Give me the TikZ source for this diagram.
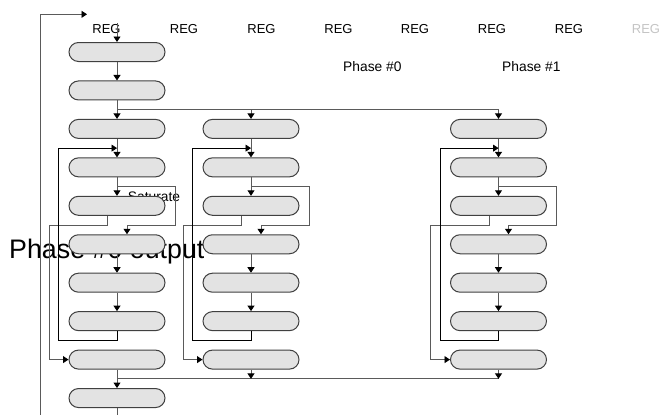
\documentclass[tikz,border=0pt]{standalone}
\usepackage{fontspec}
\setmainfont{Liberation Sans}
\usetikzlibrary{arrows.meta,calc}
\definecolor{boxfill}{HTML}{E3E3E3}
\definecolor{boxline}{HTML}{404040}
\definecolor{wiregray}{HTML}{5A5A5A}
\definecolor{fadegray}{HTML}{C4C4C4}
\begin{document}
\begin{tikzpicture}[x=1pt,y=-1pt,
  blk/.style={draw=boxline, fill=boxfill, rounded corners=9.5pt, minimum width=96pt, minimum height=19pt, inner sep=0pt, line width=1pt},
  wire/.style={draw=wiregray, line width=0.9pt},
  fb/.style={draw=black, line width=0.9pt},
  tip/.style={-{Triangle[width=7pt,length=5.5pt,fill=black,color=black]}},
  lbl/.style={font=\fontsize{13}{15}\selectfont, inner sep=0pt},
  slbl/.style={font=\fontsize{13.8}{16}\selectfont, inner sep=0pt}
]
\useasboundingbox (0,0) rectangle (665,415);

% texts (bottom layer)
\node[font=\fontsize{26.8}{30}\selectfont, inner sep=0pt, anchor=base west] (big) at (9,258.3) {Phase \#0 output};
\foreach \i/\x in {1/106.5,2/184,3/261.5,4/338.5,5/415,6/492,7/569} {
  \node[lbl, anchor=base] (reg\i) at (\x,34) {REG};
}
\node[lbl, anchor=base, text=fadegray] (reg8) at (646,34) {REG};
\node[slbl, anchor=base west] (ph0) at (343,71.5) {Phase \#0};
\node[slbl, anchor=base west] (ph1) at (502,71.5) {Phase \#1};
\node[slbl, anchor=base west] (sat) at (127.7,201) {Saturate};

% boxes
\node[blk] (a1) at (117,52) {};
\node[blk] (a2) at (117,90.45) {};
\node[blk] (a10) at (117,398.05) {};
\foreach \c/\x in {a/117,b/251,c/498.5} {
  \foreach \r in {3,...,9} {
    \node[blk] (\c\r) at (\x,{52+38.45*(\r-1)}) {};
  }
}

% top connectors
\coordinate (lb) at (40.7,415);
\coordinate (lt) at (87,14.3);
\draw[wire,tip] (lb) |- (lt);
\coordinate (rin) at (117,23);
\draw[wire,tip] (rin) -- (a1.north);
\draw[wire,tip] (a1.south) -- (a2.north);
\draw[wire,tip] (a2.south) -- (a3.north);
\coordinate (m23) at ($(a2.south)!.5!(a3.north)$);
\draw[wire,tip] (m23) -| (b3.north);
\draw[wire,tip] (m23) -| (c3.north);

% per column
\foreach \c in {a,b,c} {
  \coordinate (\c m34) at ($(\c3.south)!.5!(\c4.north)$);
  \coordinate (\c m45) at ($(\c4.south)!.5!(\c5.north)$);
  \coordinate (\c m56) at ($(\c5.south)!.5!(\c6.north)$);
  \coordinate (\c m89) at ($(\c8.south)!.5!(\c9.north)$);
  \coordinate (\c L1) at ($(\c5.west)+(-19.5,0)$);
  \coordinate (\c L2) at ($(\c5.west)+(-10,0)$);
  \coordinate (\c R1) at ($(\c5.east)+(9.5,0)$);
  \coordinate (\c o5) at ($(\c5.south)+(-9.3,0)$);
  \coordinate (\c i6) at ($(\c6.north)+(10,0)$);
  \draw[wire,tip] (\c3.south) -- (\c4.north);
  \draw[wire,tip] (\c4.south) -- (\c5.north);
  \draw[wire,tip] (\c m45) -| (\c R1 |- \c m56) -| (\c i6);
  \draw[wire,tip] (\c o5) |- (\c L1 |- \c m56) |- (\c9.west);
  \draw[wire,tip] (\c6.south) -- (\c7.north);
  \draw[wire,tip] (\c7.south) -- (\c8.north);
  \draw[fb,tip] (\c8.south) |- (\c L2 |- \c m89) |- (\c m34);
}

% bottom connectors
\draw[wire,tip] (a9.south) -- (a10.north);
\coordinate (m910) at ($(a9.south)!.5!(a10.north)$);
\draw[wire] (m910) -- (m910 -| c9.south);
\draw[wire,tip] (b9.south) -- (b9.south |- m910);
\draw[wire,tip] (c9.south) -- (c9.south |- m910);
\coordinate (bot) at (117,415);
\draw[wire] (a10.south) -- (bot);
\end{tikzpicture}
\end{document}
